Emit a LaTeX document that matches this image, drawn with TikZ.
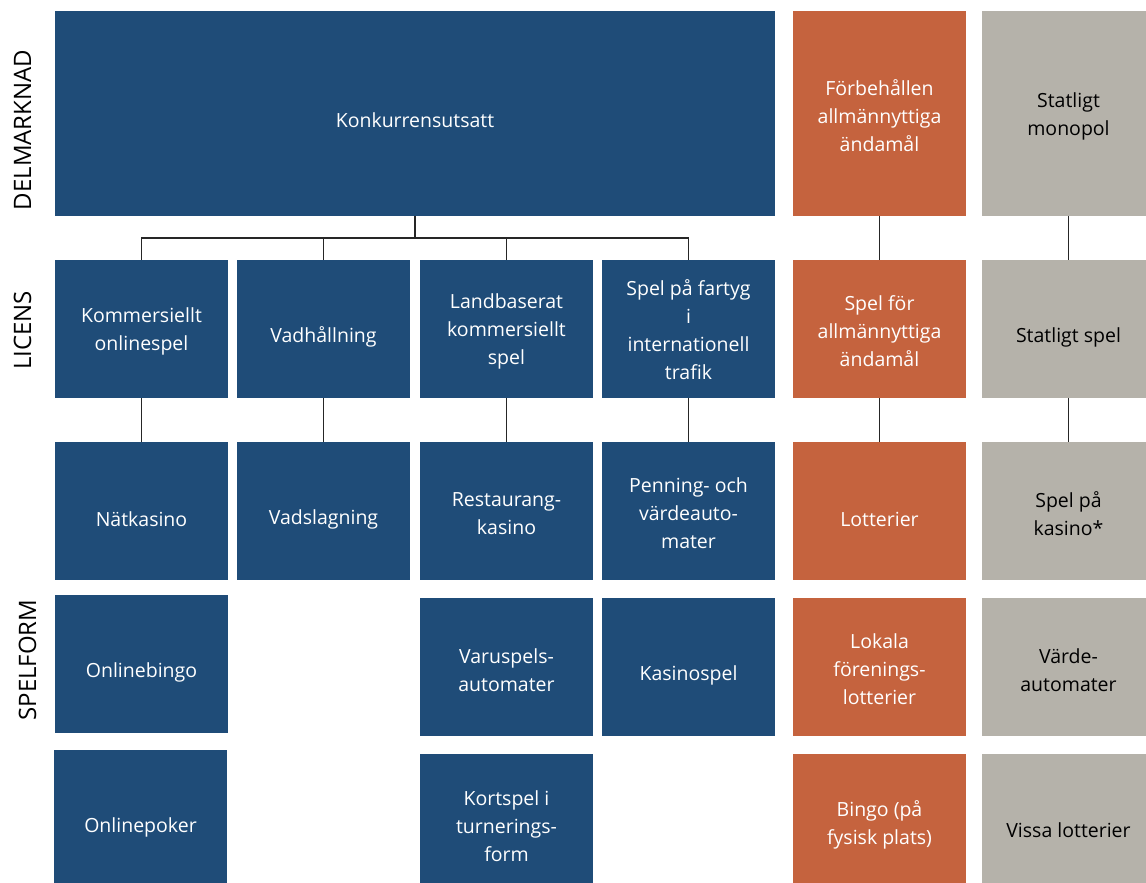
\documentclass[tikz,border=0pt]{standalone}
\usepackage{fontspec}
\setmainfont{Open Sans}
\definecolor{cBlue}{RGB}{31,76,120}
\definecolor{cOrange}{RGB}{197,99,62}
\definecolor{cGray}{RGB}{181,178,170}
\begin{document}
\begin{tikzpicture}[x=1pt,y=-1pt,
  cell/.style={rectangle, draw=none, inner sep=0pt, minimum width=173pt, minimum height=138pt},
  bluecell/.style={cell, fill=cBlue},
  orcell/.style={cell, fill=cOrange},
  graycell/.style={cell, fill=cGray},
  wtxt/.style={align=center, text=white, inner sep=0pt, font=\fontsize{19.5}{28}\selectfont},
  ktxt/.style={align=center, text=black, inner sep=0pt, font=\fontsize{19.5}{28}\selectfont},
  head/.style={rotate=90, text=black, inner sep=0pt, font=\fontsize{24}{28}\selectfont},
  conn/.style={draw=black!85, line width=1.3pt}
]
\useasboundingbox (0,0) rectangle (1146,883);
\clip (0,0) rectangle (1146,883);

% row headers
\node[head] (hdel) at (22.5,130) {DELMARKNAD};
\node[head] (hlic) at (22.5,330.5) {LICENS};
\node[head] (hspf) at (27.5,660) {SPELFORM};

% row 0
\node[bluecell, minimum width=720pt, minimum height=205pt, label={[wtxt,yshift=-7pt]center:Konkurrensutsatt}] (konk) at (415,113.5) {};
\node[orcell, minimum height=205pt, label={[wtxt,yshift=-2.5pt]center:{Förbehållen\\allmännyttiga\\ändamål}}] (forb) at (879.5,113.5) {};
\node[graycell, minimum height=205pt, label={[ktxt,yshift=-3pt]center:{Statligt\\monopol}}] (stat) at (1068.5,113.5) {};

% row 1 (licens)
\node[bluecell, label={[wtxt,yshift=-2pt]center:{Kommersiellt\\onlinespel}}] (l1) at (141.5,329) {};
\node[bluecell, label={[wtxt,yshift=-8pt]center:Vadhållning}] (l2) at (323.5,329) {};
\node[bluecell, label={[wtxt,yshift=-2pt]center:{Landbaserat\\kommersiellt\\spel}}] (l3) at (506.5,329) {};
\node[bluecell, label={[wtxt,yshift=-1pt]center:{Spel på fartyg\\i\\internationell\\trafik}}] (l4) at (688.5,329) {};
\node[orcell, label={[wtxt,yshift=-2pt]center:{Spel för\\allmännyttiga\\ändamål}}] (lo) at (879.5,329) {};
\node[graycell, label={[ktxt,yshift=-8pt]center:Statligt spel}] (lg) at (1068.5,329) {};

% row 2
\node[bluecell, label={[wtxt,yshift=-8pt]center:Nätkasino}] (natk) at (141.5,511) {};
\node[bluecell, label={[wtxt,yshift=-8pt]center:Vadslagning}] (vads) at (323.5,511) {};
\node[bluecell, label={[wtxt,yshift=-3pt]center:{Restaurang-\\kasino}}] (rest) at (506.5,511) {};
\node[bluecell, label={[wtxt,yshift=-2pt]center:{Penning- och\\värdeauto-\\mater}}] (penn) at (688.5,511) {};
\node[orcell, label={[wtxt,yshift=-8pt]center:Lotterier}] (lott) at (879.5,511) {};
\node[graycell, label={[ktxt,yshift=-3pt]center:{Spel på\\kasino*}}] (spka) at (1068.5,511) {};

% row 3
\node[bluecell, label={[wtxt,yshift=-8pt]center:Onlinebingo}] (obin) at (141.5,664) {};
\node[bluecell, label={[wtxt,yshift=-3pt]center:{Varuspels-\\automater}}] (varu) at (506.5,667) {};
\node[bluecell, label={[wtxt,yshift=-8pt]center:Kasinospel}] (kasi) at (688.5,667) {};
\node[orcell, label={[wtxt,yshift=-2pt]center:{Lokala\\förenings-\\lotterier}}] (loka) at (879.5,667) {};
\node[graycell, label={[ktxt,yshift=-3pt]center:{Värde-\\automater}}] (vard) at (1068.5,667) {};

% row 4
\node[bluecell, label={[wtxt,yshift=-8pt]center:Onlinepoker}] (opok) at (140.5,819) {};
\node[bluecell, label={[wtxt,yshift=-3pt]center:{Kortspel i\\turnerings-\\form}}] (kort) at (506.5,823) {};
\node[orcell, label={[wtxt,yshift=-2pt]center:{Bingo (på\\fysisk plats)}}] (bing) at (879.5,823) {};
\node[graycell, label={[ktxt,yshift=-7pt]center:Vissa lotterier}] (viss) at (1068.5,823) {};

% connectors
\coordinate (bus) at (415,238);
\draw[conn] (konk.south) -- (bus);
\draw[conn] (l1.north) |- (bus) -| (l4.north);
\draw[conn] (l2.north) -- (l2.north |- bus);
\draw[conn] (l3.north) -- (l3.north |- bus);
\draw[conn] (l1) -- (natk);
\draw[conn] (l2) -- (vads);
\draw[conn] (l3) -- (rest);
\draw[conn] (l4) -- (penn);
\draw[conn] (forb) -- (lo);
\draw[conn] (lo) -- (lott);
\draw[conn] (stat) -- (lg);
\draw[conn] (lg) -- (spka);
\end{tikzpicture}
\end{document}
